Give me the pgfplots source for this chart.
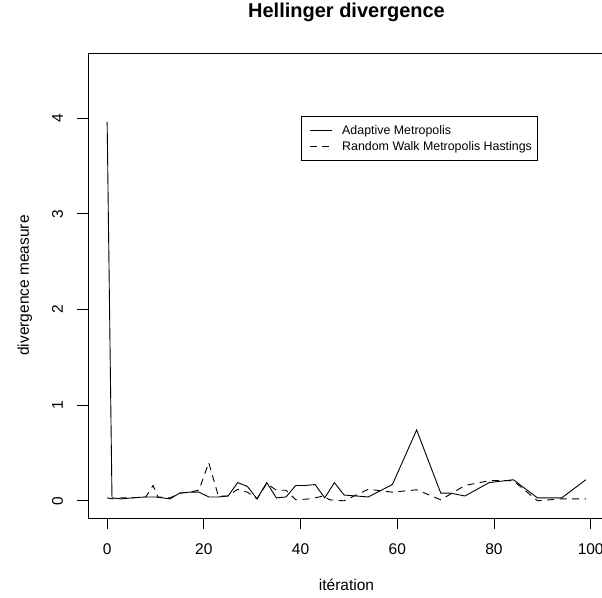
\documentclass[border=0pt]{standalone}
\usepackage{pgfplots}
\pgfplotsset{compat=1.18}
\usepackage{fontspec}
\setmainfont{Liberation Sans}

% Adaptive Metropolis (solid)
\pgfplotstableread{
x y
0 3.96
1 0.03
3 0.02
5 0.03
8 0.04
10 0.04
13 0.02
15 0.08
17 0.09
19 0.09
21 0.04
23 0.04
25 0.05
27 0.19
29 0.15
31 0.02
33 0.19
35 0.03
37 0.04
39 0.16
41 0.16
43 0.17
45 0.03
47 0.19
49 0.06
54 0.04
59 0.17
64 0.74
69 0.08
71 0.08
74 0.05
79 0.19
84 0.22
89 0.03
94 0.03
99 0.22
}\adaptive

% Random Walk Metropolis Hastings (dashed)
\pgfplotstableread{
x y
0 0.03
1 0.02
3 0.03
5 0.03
8 0.04
9.5 0.16
10.5 0.04
13 0.03
15 0.08
17 0.09
19 0.11
21 0.40
23 0.05
25 0.05
27 0.12
29 0.09
31 0.02
33 0.18
35 0.11
37 0.11
39 0.01
42 0.02
44.7 0.05
46 0.01
49 0.00
54 0.12
59 0.09
64 0.115
69 0.01
74 0.16
79 0.21
84 0.21
89 0.00
94 0.02
99 0.02
}\rwmh

\begin{document}
\begin{tikzpicture}
\begin{axis}[
  at={(0pt,0pt)}, anchor=south west,
  scale only axis, width=517pt, height=465pt,
  xmin=-3.96, xmax=102.96, ymin=-0.18, ymax=4.68,
  xtick={0,20,...,100}, ytick={0,1,2,3,4},
  tick pos=left, tick align=outside, major tick length=10.5pt,
  tick style={black, line width=0.9pt},
  axis line style={line width=0.9pt},
  /pgf/number format/assume math mode=true,
  xticklabel style={font=\fontsize{15.5}{18}\selectfont, anchor=base, inner sep=0pt},
  xticklabel shift=26pt,
  yticklabel style={font=\fontsize{15.5}{18}\selectfont, rotate=90, anchor=base, inner sep=0pt},
  yticklabel shift=14.5pt,
  title={\textbf{Hellinger divergence}},
  title style={font=\fontsize{20}{24}\selectfont, at={([yshift=29pt]axis description cs:0.5,1)}, anchor=base, inner sep=0pt},
  xlabel={itération},
  xlabel style={font=\fontsize{15.5}{18}\selectfont, at={([yshift=-72.5pt]axis description cs:0.5,0)}, anchor=base, inner sep=0pt},
  ylabel={divergence measure},
  ylabel style={font=\fontsize{15.5}{18}\selectfont, at={([xshift=-59pt]axis description cs:0,0.5)}, rotate=0, anchor=base, inner sep=0pt},
  legend style={at={(axis description cs:0.412,0.8645)}, anchor=north west,
    draw=black, line width=0.9pt, fill=white,
    font=\fontsize{12.4}{15}\selectfont,
    inner xsep=4pt, inner ysep=7.6pt, nodes={inner sep=1.5pt}, column sep=8.3pt, row sep=2.2pt},
  legend cell align=left,
  legend image code/.code={\path[draw=none] (0pt,0pt) -- (1pt,0pt); \draw[#1] (4.5pt,0pt) -- (26.5pt,0pt);},
]
\addplot[black, line width=0.9pt] table {\adaptive};
\addlegendentry{Adaptive Metropolis}
\addplot[black, line width=0.9pt, dash pattern=on 7pt off 5.5pt] table {\rwmh};
\addlegendentry{Random Walk Metropolis Hastings}
\end{axis}
\pgfresetboundingbox
\useasboundingbox (-88pt,-79pt) rectangle (514pt,518pt);
\end{tikzpicture}
\end{document}
